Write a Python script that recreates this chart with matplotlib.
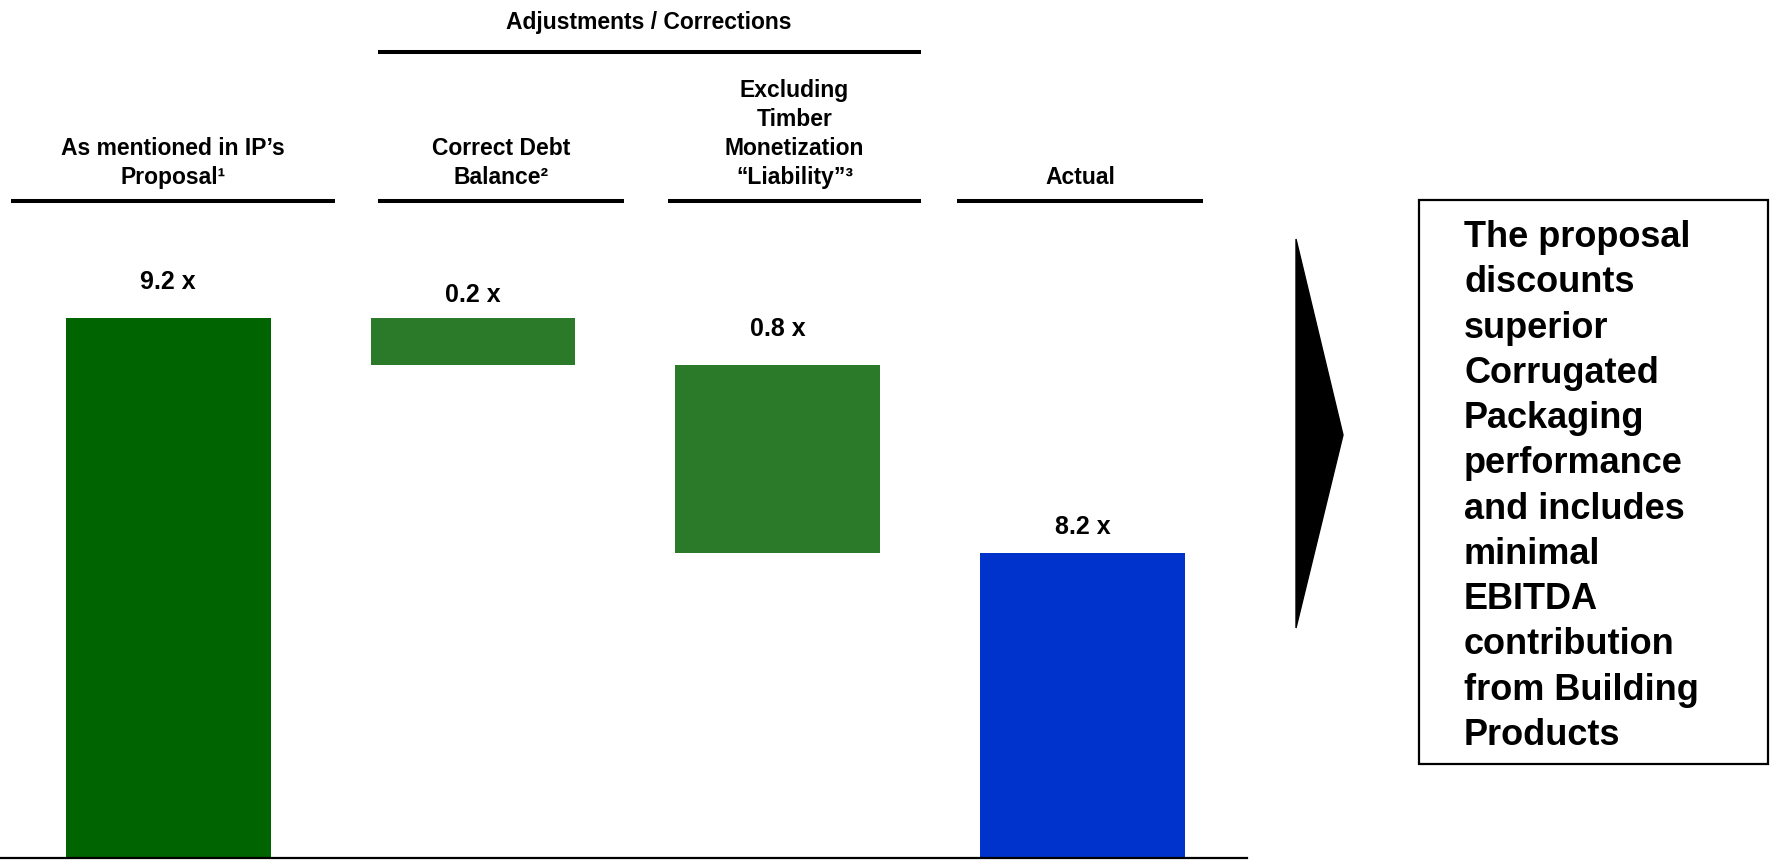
import matplotlib
matplotlib.use("Agg")
import matplotlib.pyplot as plt
from matplotlib.lines import Line2D
from matplotlib.patches import Polygon, Rectangle

# Data
steps = ["As mentioned in IP’s\nProposal¹", "Correct Debt\nBalance²",
         "Excluding\nTimber\nMonetization\n“Liability”³", "Actual"]
multiples = [9.2, 0.2, 0.8, 8.2]
# bar lengths as drawn on the slide (the original is not to scale)
drawn = [9.2, 0.8, 3.2, 5.2]
bar_colors = ["#006400", "#2a7a2a", "#2a7a2a", "#0033cc"]
group_title = "Adjustments / Corrections"
takeaway = ["The proposal", "discounts", "superior", "Corrugated", "Packaging",
            "performance", "and includes", "minimal", "EBITDA",
            "contribution", "from Building", "Products"]

W, H = 1770, 860
plt.rcParams['font.family'] = ['Liberation Sans', 'DejaVu Sans']
plt.rcParams['font.weight'] = 'bold'


def px(x, y):
    # pixel position (from top-left) -> figure fraction
    return x / W, 1 - y / H


fig = plt.figure(figsize=(W / 100, H / 100), dpi=100)
fig.patch.set_facecolor("white")

ax = fig.add_axes([0, 2 / H, 1247 / W, 704 / H])
ax.set_xlim(-0.551, 3.538)
ax.set_ylim(0, 12)
for name, spine in ax.spines.items():
    spine.set_visible(name == "bottom")
ax.spines["bottom"].set_linewidth(1.6)
ax.set_xticks([])
ax.set_yticks([])

# waterfall bottoms
bottoms = [0]
running = drawn[0]
for h in drawn[1:-1]:
    running -= h
    bottoms.append(running)
bottoms.append(0)

label_offsets = [26, 17, 26, 19]  # points above bar top
xs = range(len(steps))
ax.bar(xs, drawn, bottom=bottoms, width=0.672, color=bar_colors, edgecolor="none")
for x, b, h, v, off in zip(xs, bottoms, drawn, multiples, label_offsets):
    ax.annotate(f"{v:.1f} x", (x, b + h), xytext=(0, off), textcoords="offset points",
                ha="center", va="center", fontsize=18, fontweight="bold")

# column headers with underlines
spans = [(11, 335), (378, 624), (668, 921), (957, 1203)]
for label, (x0, x1) in zip(steps, spans):
    cx = (x0 + x1) / 2
    fig.text(*px(cx, 189), label, ha="center", va="bottom", fontsize=16.5,
             fontweight="bold", linespacing=1.34)
    fig.add_artist(Line2D([x0 / W, x1 / W], [1 - 201 / H] * 2, color="black", lw=2.9,
                          transform=fig.transFigure, solid_capstyle="butt"))

fig.text(*px(649, 23), group_title, ha="center", va="center", fontsize=16.5, fontweight="bold")
fig.add_artist(Line2D([378 / W, 921 / W], [1 - 52 / H] * 2, color="black", lw=2.9,
                      transform=fig.transFigure, solid_capstyle="butt"))

# chevron
fig.add_artist(Polygon([px(1296, 239), px(1343, 435), px(1296, 628)], closed=True,
                       facecolor="black", edgecolor="black", transform=fig.transFigure))

# takeaway box
x0, y0 = px(1419, 764)
x1, y1 = px(1768, 200)
fig.add_artist(Rectangle((x0, y0), x1 - x0, y1 - y0, facecolor="white", edgecolor="black",
                         lw=1.6, transform=fig.transFigure))
fig.text(*px(1464, 220), "\n".join(takeaway), ha="left", va="top", fontsize=26,
         fontweight="bold", linespacing=1.38)

fig.savefig("out.png", dpi=100)
